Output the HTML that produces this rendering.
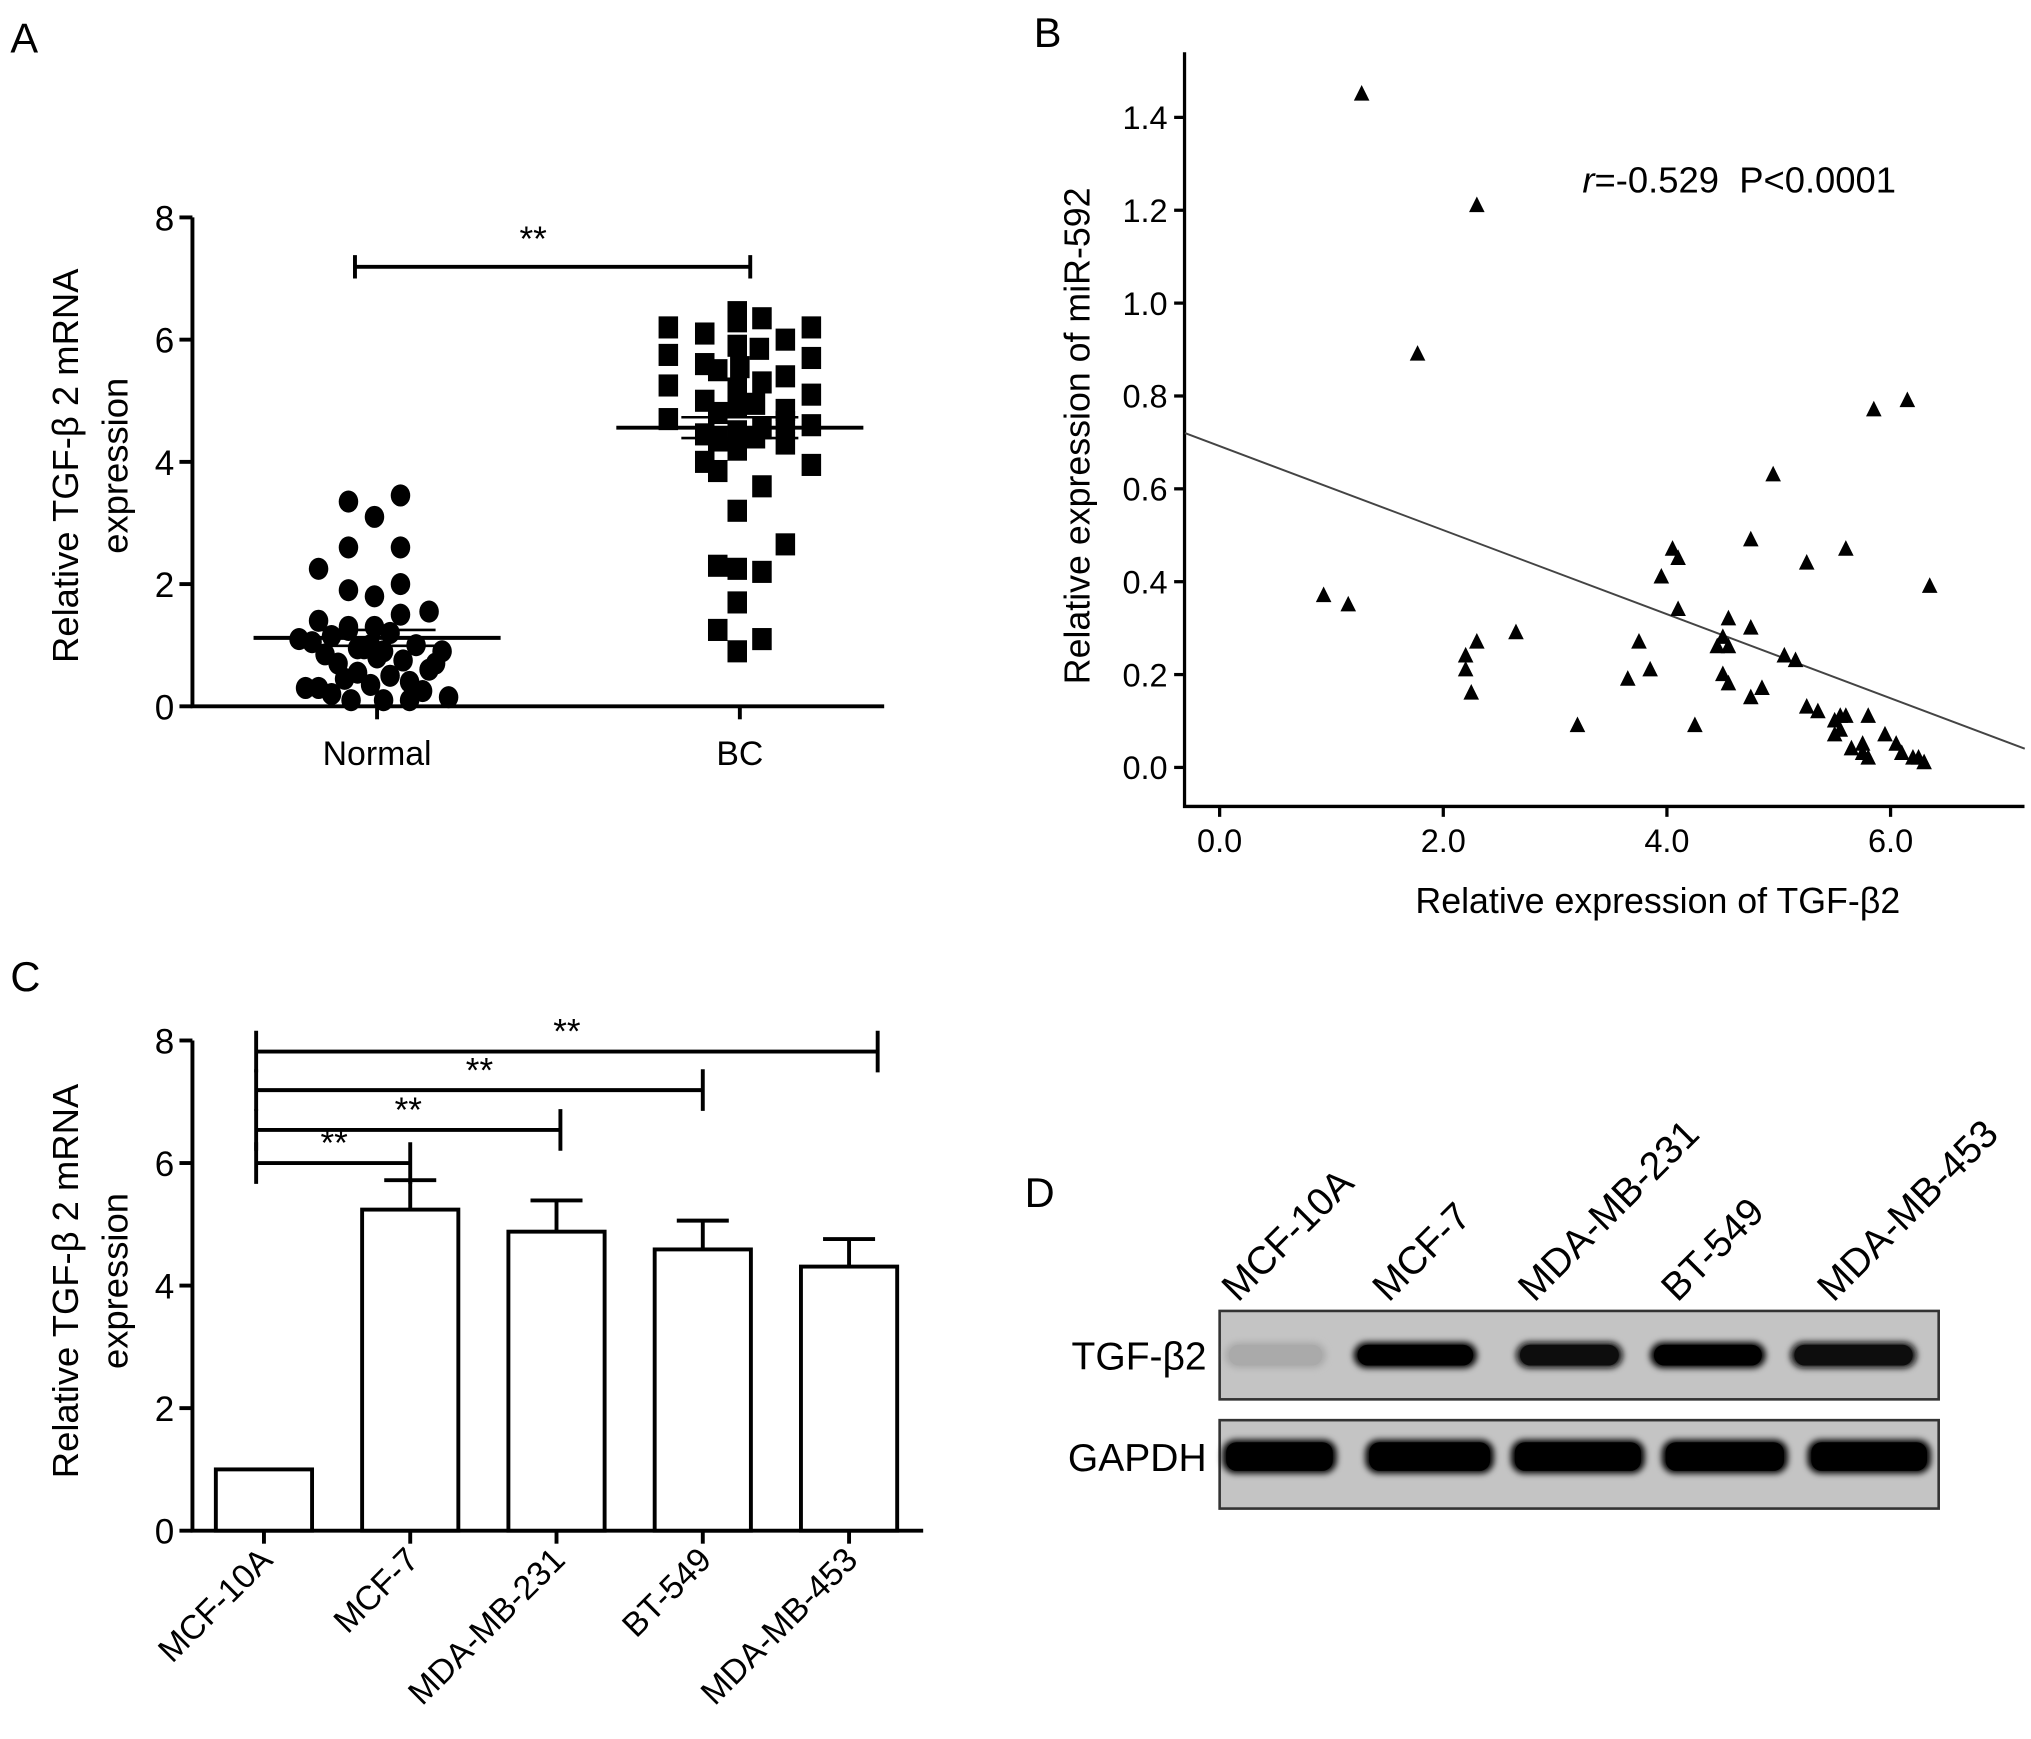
<!DOCTYPE html>
<html><head><meta charset="utf-8"><style>
html,body{margin:0;padding:0;background:#fff;}
svg{display:block;font-family:"Liberation Sans",sans-serif;}
</style></head><body>
<svg id="fig" width="2031" height="1739" viewBox="0 0 1562 1337" xmlns="http://www.w3.org/2000/svg">
<defs>
<filter id="blur" x="-20%" y="-60%" width="140%" height="220%"><feGaussianBlur stdDeviation="2.5"/></filter>
</defs>
<g id="A"></g>
<g id="B"></g>
<g id="C"></g>
<g id="D"></g>
</svg>
<script>
// ---------- Panel A data ----------
const aCategories = ["Normal","BC"];
const aTicks = [0,2,4,6,8];
const aNormalVals = [3.35,3.1,3.45,2.6,2.6,2.25,1.9,1.8,2.0,1.55,1.5,1.4,1.3,1.25,1.2,1.15,1.1,1.05,1.0,0.95,0.9,0.85,0.8,0.75,0.7,0.6,0.55,0.5,0.45,0.4,0.3,0.3,0.25,0.2,0.15,0.1,0.1,0.1,1.0,0.9,0.95,1.3,0.35,0.7];
const aNormalJit = [-22,-2,18,-22,18,-45,-22,-2,18,40,18,-45,-2,-22,10,-35,-60,-50,30,-10,50,-40,0,20,-30,40,-15,10,-25,25,-55,-45,35,-35,55,-20,5,25,-5,5,-15,-22,-5,45];
const aBCVals = [6.45,6.35,6.3,6.2,6.2,6.1,6.0,5.9,5.85,5.75,5.7,5.6,5.55,5.5,5.4,5.3,5.25,5.2,5.1,5.0,4.95,4.9,4.85,4.8,4.7,4.65,4.6,4.55,4.5,4.45,4.4,4.35,4.3,4.2,4.0,3.95,3.85,3.6,3.2,2.65,2.3,2.25,2.2,1.7,1.25,1.1,0.9];
const aBCJit = [-2,17,-2,-55,55,-27,35,-2,15,-55,55,-27,0,-17,35,17,-55,-2,55,-27,12,-2,35,-17,-55,35,55,17,-2,-27,12,-17,35,-2,-27,55,-17,17,-2,35,-17,-2,17,-2,-17,17,-2];
const aMeans = [1.12,4.56];
const aSEM = [0.13,0.17];
const aSig = "**";

// ---------- Panel B data ----------
const bXTicks = [0,2,4,6];
const bXTickLabels = ["0.0","2.0","4.0","6.0"];
const bYTicks = [0,0.2,0.4,0.6,0.8,1.0,1.2,1.4];
const bYTickLabels = ["0.0","0.2","0.4","0.6","0.8","1.0","1.2","1.4"];
const bX = [1.27,2.3,1.77,0.93,1.15,2.3,2.2,2.2,2.25,2.65,3.2,3.95,4.05,4.1,4.1,3.75,3.65,3.85,4.25,4.45,4.5,4.55,4.55,4.5,4.55,4.75,4.75,4.75,4.85,4.95,5.05,5.15,5.25,5.25,5.35,5.6,5.5,5.55,5.6,5.55,5.8,5.5,5.65,5.75,5.8,5.85,6.15,5.95,6.05,6.1,6.2,6.25,6.35,6.3,5.75];
const bY = [1.45,1.21,0.89,0.37,0.35,0.27,0.24,0.21,0.16,0.29,0.09,0.41,0.47,0.45,0.34,0.27,0.19,0.21,0.09,0.26,0.28,0.26,0.32,0.20,0.18,0.30,0.49,0.15,0.17,0.63,0.24,0.23,0.44,0.13,0.12,0.47,0.10,0.11,0.11,0.08,0.11,0.07,0.04,0.03,0.02,0.77,0.79,0.07,0.05,0.03,0.02,0.02,0.39,0.01,0.05];
const bFit = [0.692,-0.0905];
const bFitRange = [-0.31,7.2];

// ---------- Panel C data ----------
const cCategories = ["MCF-10A","MCF-7","MDA-MB-231","BT-549","MDA-MB-453"];
const cValues = [1.0,5.24,4.88,4.59,4.31];
const cErrors = [0,0.48,0.51,0.47,0.45];
const cTicks = [0,2,4,6,8];
const cSigTargets = [1,2,3,4];
const cSigLevels = [6.0,6.54,7.19,7.82];

// ---------- Panel D data ----------
const dLanes = ["MCF-10A","MCF-7","MDA-MB-231","BT-549","MDA-MB-453"];
const dTGF = [0.12,1.0,0.85,0.92,0.85];
const dGAPDH = [1.0,1.0,1.0,1.0,1.0];

const NS="http://www.w3.org/2000/svg";
function mk(parent,tag,attrs,text){const e=document.createElementNS(NS,tag);for(const k in attrs)e.setAttribute(k,attrs[k]);if(text!==undefined)e.textContent=text;parent.appendChild(e);return e;}

// ===== Panel A =====
(function(){
const g=document.getElementById('A');
const x0=148,x1=680,yb=543,yt=167;
const ya=v=>yb-v/8*(yb-yt);
const xa=i=>[290,569][i];
let t=mk(g,'text',{x:8,y:40,'font-size':32},'A');


let ax=mk(g,'path',{d:`M${x0} ${yt} V${yb} H${x1}`,stroke:'#000','stroke-width':3,fill:'none'});


aTicks.forEach(v=>{
 let tk=mk(g,'line',{x1:x0-10,x2:x0,y1:ya(v),y2:ya(v),stroke:'#000','stroke-width':3});
 
 
 let l=mk(g,'text',{x:x0-14,y:ya(v)+10,'font-size':27,'text-anchor':'end'},String(v));
 
 
});
aCategories.forEach((c,i)=>{
 let tk=mk(g,'line',{x1:xa(i),x2:xa(i),y1:yb,y2:yb+10,stroke:'#000','stroke-width':3});
 
 
 let l=mk(g,'text',{x:xa(i),y:588,'font-size':26,'text-anchor':'middle'},c);
 
 
});
let yt1=mk(g,'text',{transform:'translate(60,358) rotate(-90)','font-size':28,'text-anchor':'middle'},'Relative TGF-β 2 mRNA');


let yt2=mk(g,'text',{transform:'translate(98,358) rotate(-90)','font-size':28,'text-anchor':'middle'},'expression');


aNormalVals.forEach((v,i)=>{
 let c=mk(g,'ellipse',{cx:xa(0)+aNormalJit[i],cy:ya(v),rx:7.5,ry:8.5,fill:'#000'});
 
 
});
aBCVals.forEach((v,i)=>{
 let r=mk(g,'rect',{x:xa(1)+aBCJit[i]-7.5,y:ya(v)-8.5,width:15,height:17,fill:'#000'});
 
 
});
aMeans.forEach((m,i)=>{
 let l=mk(g,'line',{x1:xa(i)-95,x2:xa(i)+95,y1:ya(m),y2:ya(m),stroke:'#000','stroke-width':3});
 
 
 [m-aSEM[i],m+aSEM[i]].forEach(s=>{
  let e=mk(g,'line',{x1:xa(i)-45,x2:xa(i)+45,y1:ya(s),y2:ya(s),stroke:'#000','stroke-width':2});
  
  
 });
});
let br=mk(g,'path',{d:`M273 196 V214 M273 205 H577 M577 196 V214`,stroke:'#000','stroke-width':3,fill:'none'});


let st=mk(g,'text',{x:410,y:193,'font-size':27,'text-anchor':'middle'},aSig);


})();

// ===== Panel B =====
(function(){
const g=document.getElementById('B');
const xa=v=>938+v*86;
const ya=v=>590-v*357.1;
const L=911,R=1557,Bt=620;
let t=mk(g,'text',{x:795,y:36,'font-size':32},'B');


let ax=mk(g,'path',{d:`M${L} 40 V${Bt} H${R}`,stroke:'#000','stroke-width':2.5,fill:'none'});


bYTicks.forEach((v,i)=>{
 let tk=mk(g,'line',{x1:L-8,x2:L,y1:ya(v),y2:ya(v),stroke:'#000','stroke-width':2.5});
 
 
 let l=mk(g,'text',{x:L-13,y:ya(v)+9,'font-size':25,'text-anchor':'end'},bYTickLabels[i]);
 
 
});
bXTicks.forEach((v,i)=>{
 let tk=mk(g,'line',{x1:xa(v),x2:xa(v),y1:Bt,y2:Bt+8,stroke:'#000','stroke-width':2.5});
 
 
 let l=mk(g,'text',{x:xa(v),y:655,'font-size':25,'text-anchor':'middle'},bXTickLabels[i]);
 
 
});
let xt=mk(g,'text',{x:1275,y:702,'font-size':27.5,'text-anchor':'middle'},'Relative expression of TGF-β2');


let yt=mk(g,'text',{transform:'translate(838,335) rotate(-90)','font-size':27.5,'text-anchor':'middle'},'Relative expression of miR-592');


let fl=mk(g,'line',{x1:xa(bFitRange[0]),y1:ya(bFit[0]+bFit[1]*bFitRange[0]),x2:xa(bFitRange[1]),y2:ya(bFit[0]+bFit[1]*bFitRange[1]),stroke:'#444','stroke-width':1.5});


bX.forEach((x,i)=>{
 const cx=xa(x),cy=ya(bY[i]);
 let p=mk(g,'polygon',{points:`${cx},${cy-7} ${cx-6},${cy+5} ${cx+6},${cy+5}`,fill:'#000'});
 
 
});
let an=mk(g,'text',{x:1217,y:148,'font-size':28,'xml:space':'preserve'});


mk(an,'tspan',{'font-style':'italic'},'r');
mk(an,'tspan',{},'=-0.529\u00a0\u00a0P<0.0001');
})();

// ===== Panel C =====
(function(){
const g=document.getElementById('C');
const x0=148,x1=710,yb=1177,yt=800;
const ya=v=>yb-v/8*(yb-yt);
const xa=i=>203+i*112.5;
const bw=74;
let t=mk(g,'text',{x:8,y:762,'font-size':32},'C');


let ax=mk(g,'path',{d:`M${x0} ${yt} V${yb} H${x1}`,stroke:'#000','stroke-width':3,fill:'none'});


cTicks.forEach(v=>{
 let tk=mk(g,'line',{x1:x0-10,x2:x0,y1:ya(v),y2:ya(v),stroke:'#000','stroke-width':3});
 
 
 let l=mk(g,'text',{x:x0-14,y:ya(v)+10,'font-size':27,'text-anchor':'end'},String(v));
 
 
});
let yt1=mk(g,'text',{transform:'translate(60,985) rotate(-90)','font-size':28,'text-anchor':'middle'},'Relative TGF-β 2 mRNA');


let yt2=mk(g,'text',{transform:'translate(98,985) rotate(-90)','font-size':28,'text-anchor':'middle'},'expression');


cValues.forEach((v,i)=>{
 const cx=xa(i);
 if(cErrors[i]>0){
  let e=mk(g,'path',{d:`M${cx} ${ya(v)} V${ya(v+cErrors[i])} M${cx-20} ${ya(v+cErrors[i])} H${cx+20}`,stroke:'#000','stroke-width':3,fill:'none'});
  
  
 }
 let r=mk(g,'rect',{x:cx-bw/2,y:ya(v),width:bw,height:yb-ya(v),fill:'#fff',stroke:'#000','stroke-width':3});
 
 
 let tk=mk(g,'line',{x1:cx,x2:cx,y1:yb,y2:yb+10,stroke:'#000','stroke-width':3});
 
 
 let l=mk(g,'text',{transform:`translate(${cx+8},${yb+24}) rotate(-45)`,'font-size':26,'text-anchor':'end'},cCategories[i]);
 
 
});
cSigTargets.forEach((ti,k)=>{
 const y=ya(cSigLevels[k]);
 const xl=xa(0)-6, xr=xa(ti)+(ti===4?22:(ti===2?3:0));
 let b=mk(g,'path',{d:`M${xl} ${y-16} V${y+16} M${xl} ${y} H${xr} M${xr} ${y-16} V${y+16}`,stroke:'#000','stroke-width':3,fill:'none'});
 
 
 let s=mk(g,'text',{x:k===0?xl+60:(xl+xr)/2,y:y-6,'font-size':27,'text-anchor':'middle'},'**');
 
 
});
})();

// ===== Panel D =====
(function(){
const g=document.getElementById('D');
let t=mk(g,'text',{x:788,y:928,'font-size':32},'D');


const L=938,R=1491;
const rows=[{y:1008,h:68,c:1042,label:'TGF-β2',vals:dTGF,xs:[[942,1020],[1041,1136],[1166,1248],[1269,1358],[1377,1474]],bh:20},
            {y:1092,h:68,c:1120,label:'GAPDH',vals:dGAPDH,xs:[[940,1028],[1050,1149],[1162,1265],[1278,1375],[1390,1485]],bh:26}];
rows.forEach(r=>{
 let box=mk(g,'rect',{x:L,y:r.y,width:R-L,height:r.h,fill:'#c4c4c4',stroke:'#333','stroke-width':2});
 
 
 r.vals.forEach((v,i)=>{
  const [a,b]=r.xs[i];
  const shade=Math.round(196-196*Math.min(1,v*1.1));
  let band=mk(g,'rect',{x:a,y:r.c-r.bh/2,width:b-a,height:r.bh,rx:10,fill:`rgb(${shade},${shade},${shade})`,filter:'url(#blur)'});
  
  
  let band2=mk(g,'rect',{x:a+3,y:r.c-r.bh/2+2,width:b-a-6,height:r.bh-4,rx:8,fill:`rgb(${shade},${shade},${shade})`});
  
  
 });
 let l=mk(g,'text',{x:928,y:r.c+11,'font-size':30,'text-anchor':'end'},r.label);
 
 
});
const lx=[952,1068,1180,1290,1410];
dLanes.forEach((n,i)=>{
 let l=mk(g,'text',{transform:`translate(${lx[i]},1002) rotate(-45)`,'font-size':30},n);
 
 
});
})();
</script>
</body></html>
